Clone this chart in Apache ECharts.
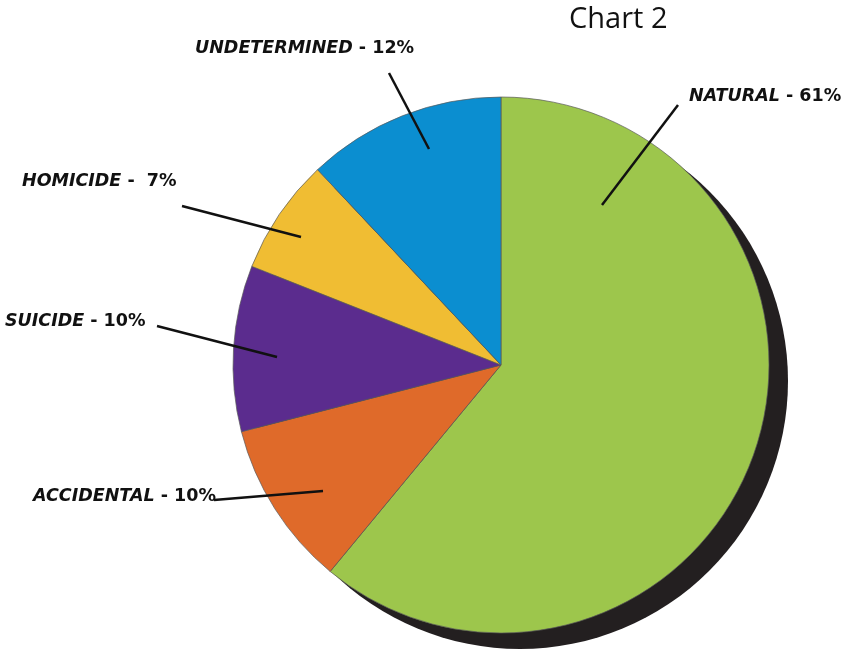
<!DOCTYPE html>
<html>
<head>
<meta charset="utf-8">
<script src="https://cdn.jsdelivr.net/npm/echarts@6/dist/echarts.min.js"></script>
<style>
html,body{margin:0;padding:0;background:#fff;}
#c{width:843px;height:656px;}
</style>
</head>
<body>
<div id="c"></div>
<script>
const categories = ['NATURAL', 'ACCIDENTAL', 'SUICIDE', 'HOMICIDE', 'UNDETERMINED'];
const values = [61, 10, 10, 7, 12];
const colors = ['#9dc64c', '#df6a2a', '#5b2c8e', '#f0bd33', '#0b8ed0'];
const separators = [' - ', ' - ', ' - ', ' -  ', ' - '];

// label anchor (left, middle) and leader line [outer end, inner end]
const labelPos = [
  {x: 689, y: 96, line: [[678, 105], [602, 205]]},
  {x: 33, y: 496, line: [[214, 500], [323, 491]]},
  {x: 5, y: 321, line: [[157, 326], [277, 357]]},
  {x: 22, y: 181, line: [[182, 206], [301, 237]]},
  {x: 195, y: 48, line: [[389, 73], [429, 149]]}
];

const chart = echarts.init(document.getElementById('c'));
const labelFont = '"DejaVu Sans", sans-serif';

const pieCommon = {
  type: 'pie',
  center: [501, 365],
  radius: 268,
  startAngle: 90,
  clockwise: true
};

chart.setOption({
  animation: false,
  backgroundColor: '#ffffff',
  title: {
    text: 'Chart 2',
    left: 564,
    top: 0,
    textStyle: {fontFamily: '"Open Sans", sans-serif', fontSize: 29, fontWeight: 'normal', color: '#111'}
  },
  series: [
    {
      type: 'pie',
      silent: true,
      center: [520, 381],
      radius: 268,
      z: 1,
      label: {show: false},
      labelLine: {show: false},
      itemStyle: {color: '#231f20'},
      data: [{value: 1, name: 'shadow'}]
    },
    Object.assign({}, pieCommon, {
      z: 2,
      silent: true,
      itemStyle: {borderColor: 'rgba(90,90,90,0.7)', borderWidth: 1},
      label: {show: false},
      labelLine: {show: false},
      data: categories.map((c, i) => ({name: c, value: values[i], itemStyle: {color: colors[i]}}))
    }),
    Object.assign({}, pieCommon, {
      z: 3,
      silent: true,
      itemStyle: {color: 'rgba(0,0,0,0)', borderWidth: 0},
      data: categories.map((c, i) => ({
        name: c,
        value: values[i],
        label: {formatter: '{n|' + c + '}{p|' + separators[i] + values[i] + '%}'}
      })),
      label: {
        show: true,
        position: 'outside',
        overflow: 'none',
        width: 400,
        rich: {
          n: {fontFamily: labelFont, fontStyle: 'italic', fontWeight: 'bold', fontSize: 17.5, color: '#111'},
          p: {fontFamily: labelFont, fontWeight: 'bold', fontSize: 17.5, color: '#111'}
        }
      },
      labelLine: {show: true, showAbove: true, lineStyle: {color: '#111', width: 2.5}},
      labelLayout: function (params) {
        const p = labelPos[params.dataIndex];
        return {
          x: p.x,
          y: p.y,
          align: 'left',
          verticalAlign: 'middle',
          labelLinePoints: [p.line[1], p.line[1], p.line[0]]
        };
      }
    })
  ]
});
</script>
</body>
</html>
